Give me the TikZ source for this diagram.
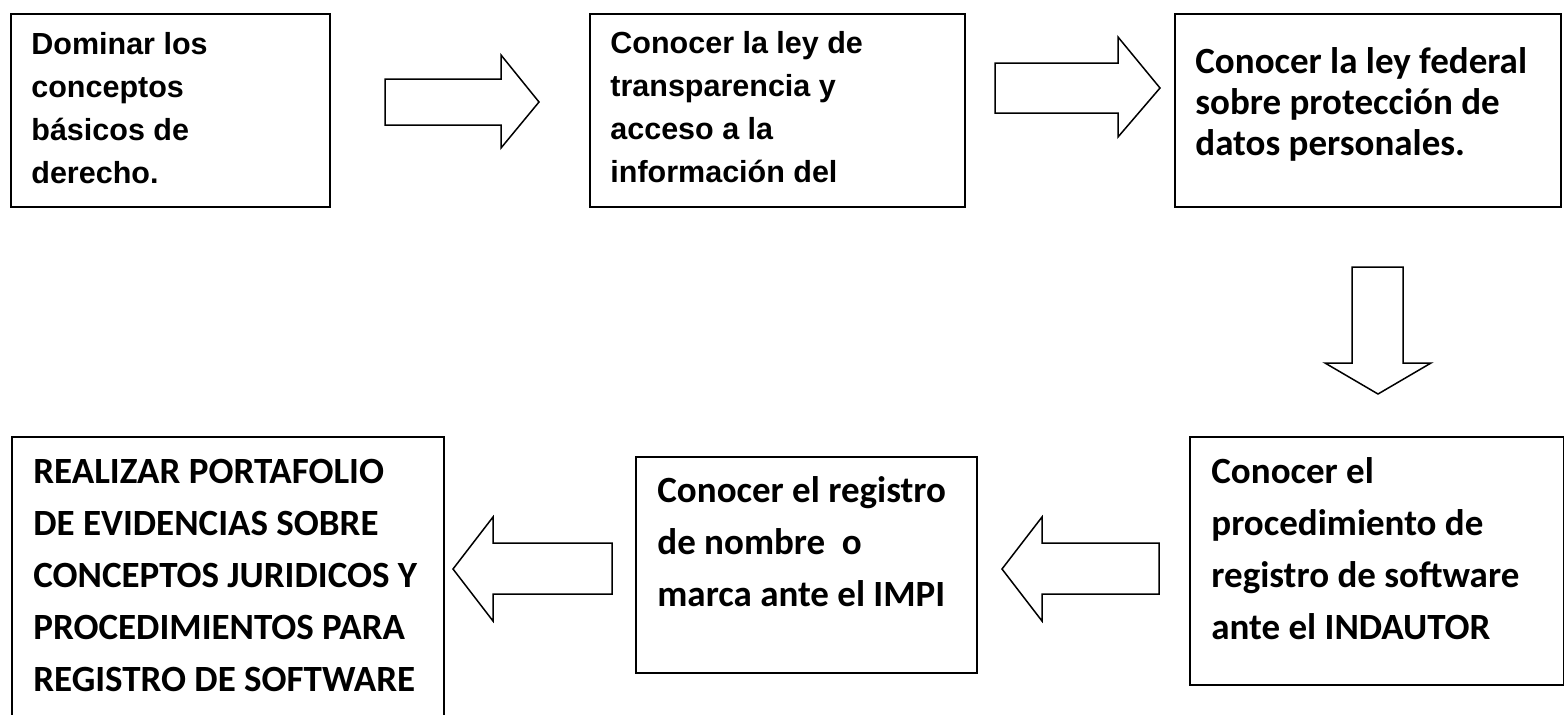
\documentclass[tikz,border=0pt]{standalone}
\usepackage{fontspec}
\usepackage{tikz}
\newfontfamily\arialfont{Liberation Sans}
\newfontfamily\calibrifont{Carlito}
\tikzset{
    plain-box/.style = {draw=black, line width=1pt, rectangle, inner sep=0pt, anchor=north west},
    arial-text/.style = {font=\arialfont\bfseries\fontsize{15.25}{21.5}\selectfont, align=left, inner sep=0pt, anchor=base west},
    calibri-text/.style = {font=\calibrifont\bfseries\fontsize{18.5}{26}\selectfont, align=left, inner sep=0pt, anchor=base west},
    block-arrow/.style = {draw=black, fill=white, line width=0.75pt, line join=miter},
}

\begin{document}
\begin{tikzpicture}[x=0.5pt, y=-0.5pt]
\useasboundingbox (0,0) rectangle (1564,714);
\clip (0,0) rectangle (1564,714);

% top row (text anchored on its last baseline)
\node[plain-box, minimum width=159.5pt, minimum height=96.5pt] (dominar) at (10,13) {};
\node[arial-text] (dominar-text) at ([shift={(21,170)}]dominar.north west) {Dominar los\\conceptos\\básicos de\\derecho.};

\node[plain-box, minimum width=187.5pt, minimum height=96.5pt] (transparencia) at (589,13) {};
\node[arial-text] (transparencia-text) at ([shift={(21,169)}]transparencia.north west) {Conocer la ley de\\transparencia y\\acceso a la\\información del};

\node[plain-box, minimum width=193pt, minimum height=96.5pt] (federal) at (1174,13) {};
\node[calibri-text, font=\calibrifont\bfseries\fontsize{18.5}{20.5}\selectfont] (federal-text) at ([shift={(21,142)}]federal.north west) {Conocer la ley federal\\sobre protección de\\datos personales.};

% bottom row
\node[plain-box, minimum width=187pt, minimum height=124pt] (indautor) at (1189,436) {};
\node[calibri-text] (indautor-text) at ([shift={(22,203)}]indautor.north west) {Conocer el\\procedimiento de\\registro de software\\ante el INDAUTOR};

\node[plain-box, minimum width=170.5pt, minimum height=108pt] (impi) at (635,456) {};
\node[calibri-text] (impi-text) at ([shift={(22,150)}]impi.north west) {Conocer el registro\\de nombre~~o\\marca ante el IMPI};

\node[plain-box, minimum width=216pt, minimum height=147pt] (portafolio) at (11,436) {};
\node[calibri-text] (portafolio-text) at ([shift={(22,255)}]portafolio.north west) {REALIZAR PORTAFOLIO\\DE EVIDENCIAS SOBRE\\CONCEPTOS JURIDICOS Y\\PROCEDIMIENTOS PARA\\REGISTRO DE SOFTWARE};

% block arrows
\draw[block-arrow] (385,79) -- (501,79) -- (501,55) -- (539,102) -- (501,148) -- (501,125) -- (385,125) -- cycle;
\draw[block-arrow] (995,63) -- (1118,63) -- (1118,37) -- (1160,88) -- (1118,137) -- (1118,113) -- (995,113) -- cycle;
\draw[block-arrow] (1352,267) -- (1403,267) -- (1403,363) -- (1431,363) -- (1378,394) -- (1325,363) -- (1352,363) -- cycle;
\draw[block-arrow] (1159,543) -- (1042,543) -- (1042,517) -- (1002,569) -- (1042,621) -- (1042,594) -- (1159,594) -- cycle;
\draw[block-arrow] (612,543) -- (493,543) -- (493,517) -- (453,569) -- (493,621) -- (493,594) -- (612,594) -- cycle;
\end{tikzpicture}
\end{document}
